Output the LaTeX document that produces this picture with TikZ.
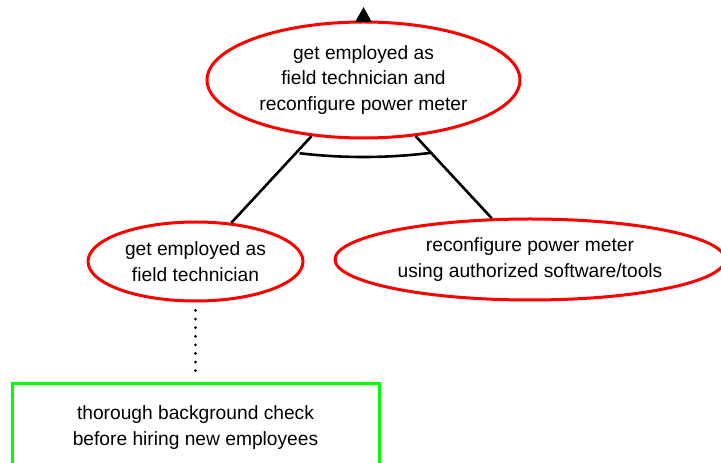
\documentclass[tikz,border=0pt]{standalone}
\usepackage{fontspec}
\setmainfont{Liberation Sans}
\usetikzlibrary{shapes.geometric,arrows.meta}
\begin{document}
\begin{tikzpicture}[x=1pt,y=1pt,
  goal/.style={ellipse,draw=red,line width=3pt,inner sep=0pt,align=center,
    font=\fontsize{19.2}{25.5}\selectfont},
  ctrl/.style={rectangle,draw=green,line width=3pt,inner sep=0pt,align=center,
    font=\fontsize{19.2}{26}\selectfont},
  link/.style={line width=2.6pt,black},
  dotlink/.style={line width=3pt,line cap=round,dash pattern=on 0pt off 8.6pt}]
\useasboundingbox (0,0) rectangle (721,463);
\node[goal,minimum width=313,minimum height=116] (top) at (363.5,383)
  {get employed as\\field technician and\\reconfigure power meter};
\node[goal,minimum width=215,minimum height=79] (left) at (195.5,201.5)
  {get employed as\\field technician};
\node[goal,minimum width=390,minimum height=81] (right) at (530,203.5)
  {reconfigure power meter\\using authorized software/tools};
\node[ctrl,minimum width=367,minimum height=88] (box) at (195.5,35)
  {thorough background check\\before hiring new employees};
\coordinate (up) at (363.5,456);
\draw[link,-{Triangle[length=15pt,width=16pt]}] (top.north) -- (up);
\draw[link] (top) -- (left);
\draw[link] (top) -- (right);
\draw[link] (top.center) ++(252:207 and 77) arc[start angle=252,end angle=289,x radius=207,y radius=77];
\draw[dotlink,shorten <=8pt,shorten >=5pt] (left.south) -- (box.north);
\end{tikzpicture}
\end{document}
